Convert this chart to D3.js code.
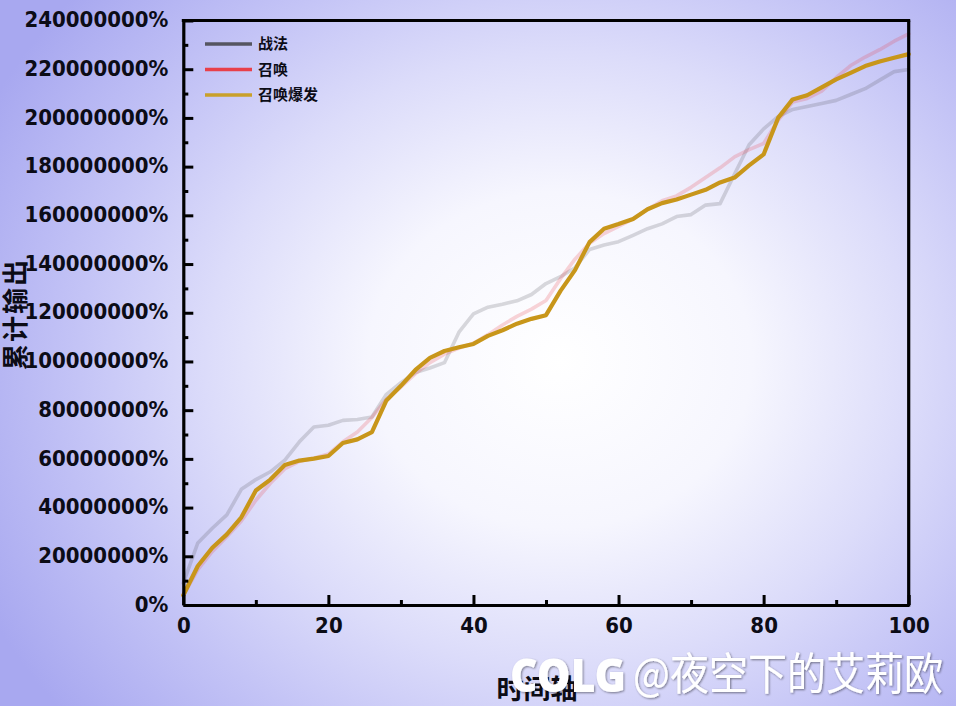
<!DOCTYPE html>
<html><head><meta charset="utf-8">
<script src="https://cdn.jsdelivr.net/npm/d3@7"></script>
<style>
html,body{margin:0;padding:0;background:#c0c0f4;}
svg{display:block;}
</style></head>
<body>
<svg id="chart" width="956" height="706"></svg>
<script>
// ---- data (values in millions of %) ----
const seriesNames = ["战法", "召唤", "召唤爆发"];
const timeAxis = [0,2,4,6,8,10,12,14,16,18,20,22,24,26,28,30,32,34,36,38,40,42,44,46,48,50,52,54,56,58,60,62,64,66,68,70,72,74,76,78,80,82,84,86,88,90,92,94,96,98,100];
const zhanfa = [9,25.5,31.5,37,47.5,51.5,54.7,59.5,67,73.1,73.8,75.8,76.2,77.2,86.5,91.3,95.5,97.3,99.5,112,119.5,122.3,123.5,124.9,127.5,132,134.8,138.5,146,147.8,149.2,151.8,154.5,156.5,159.5,160.3,164.2,164.8,177,189,195.5,200.5,203.5,204.7,205.9,207.2,209.6,212,215.5,219,219.9];
const zhaohuan = [4,14.5,22,28,34.5,43,50,56,59,60.3,62,67,71,77,84.5,89.5,95,99.5,103,105.5,107.5,111,115,118.5,121.5,125,134,142,148.5,152.5,155.5,158.5,162.5,166,168,171.5,175.5,179.5,184,187,189.5,199,206.5,208,211,216.5,221.5,225,228,231.5,234.5];
const baofa = [4,16,23.5,29,36,47,51.5,57.5,59.3,60.1,61.2,66.5,68,71,84,90,96.5,101.5,104.3,105.8,107.2,110.5,112.8,115.5,117.5,119,129,137.5,149,154.5,156.4,158.5,162.5,165,166.5,168.5,170.5,173.5,175.5,180.5,185,200,207.6,209.3,212.5,215.8,218.5,221.3,223.2,224.7,226.2];
const yTicks = [0,20,40,60,80,100,120,140,160,180,200,220,240];
const yMinorTicks = [10,30,50,70,90,110,130,150,170,190,210,230];
const xTicks = [0,20,40,60,80,100];
const xMinorTicks = [10,30,50,70,90];
const xTitle = "时间轴";
const yTitle = "累计输出";

// ---- styles ----
const lineColors = ["#555560", "#e8404a", "#c8961a"];
const legendColors = ["#555560", "#e8404a", "#c9a02a"];
const lineOpacity = [0.22, 0.22, 1];
const lineWidths = [3.6, 3.6, 4.2];
const numFont = "'DejaVu Sans Condensed','DejaVu Sans',sans-serif";
const cjkFont = "'Noto Sans CJK SC','Noto Sans',sans-serif";

const svg = d3.select("#chart");
const W = 956, H = 706;
const m = {left:183.3, right:908.7, top:20.5, bottom:605};

// background gradient
const defs = svg.append("defs");
const rg = defs.append("radialGradient").attr("id","bg")
  .attr("gradientUnits","userSpaceOnUse").attr("cx",0).attr("cy",0).attr("r",1)
  .attr("gradientTransform","translate(560,360) scale(640,560)");
[[0,"#ffffff"],[0.3,"#f6f6fe"],[0.55,"#dcdcfa"],[0.75,"#c4c4f6"],[1,"#a8a8f0"]]
  .forEach(([o,c])=>rg.append("stop").attr("offset",o).attr("stop-color",c));
const sh = defs.append("filter").attr("id","shadow").attr("x","-10%").attr("y","-20%").attr("width","120%").attr("height","140%");
sh.append("feDropShadow").attr("dx",1).attr("dy",1).attr("stdDeviation",1.2).attr("flood-color","#000").attr("flood-opacity",0.45);

svg.append("rect").attr("width",W).attr("height",H).attr("fill","url(#bg)");

const x = d3.scaleLinear().domain([0,100]).range([m.left, m.right]);
const y = d3.scaleLinear().domain([0,240]).range([m.bottom, m.top]);

// lines
const allSeries = [zhanfa, zhaohuan, baofa];
const lineGen = d3.line().x((d,i)=>x(timeAxis[i])).y(d=>y(d));
allSeries.forEach((s,k)=>{
  svg.append("path").datum(s).attr("d",lineGen)
    .attr("fill","none").attr("stroke",lineColors[k]).attr("stroke-opacity",lineOpacity[k])
    .attr("stroke-width",lineWidths[k]).attr("stroke-linejoin","round").attr("stroke-linecap","round");
});

// axes
const yAxis = d3.axisLeft(y).tickValues(yTicks).tickSizeInner(-10).tickSizeOuter(0).tickPadding(15)
  .tickFormat(d => d===0 ? "0%" : (d*1000000) + "%");
const gy = svg.append("g").attr("transform",`translate(${m.left},0)`).call(yAxis);
const gym = svg.append("g").attr("transform",`translate(${m.left},0)`)
  .call(d3.axisLeft(y).tickValues(yMinorTicks).tickSizeInner(-5).tickSizeOuter(0).tickFormat(""));
gym.select(".domain").remove();

const xAxis = d3.axisBottom(x).tickValues(xTicks).tickSizeInner(-10).tickSizeOuter(0).tickPadding(12);
const gx = svg.append("g").attr("transform",`translate(0,${m.bottom})`).call(xAxis);
const gxm = svg.append("g").attr("transform",`translate(0,${m.bottom})`)
  .call(d3.axisBottom(x).tickValues(xMinorTicks).tickSizeInner(-5).tickSizeOuter(0).tickFormat(""));
gxm.select(".domain").remove();

[gy,gym,gx,gxm].forEach(g=>{
  g.selectAll(".domain").attr("stroke","#000").attr("stroke-width",3.2);
  g.selectAll(".tick line").attr("stroke","#000").attr("stroke-width",3);
  g.selectAll("text").attr("font-family",numFont).attr("font-weight","bold")
    .attr("font-size",22).attr("fill","#0c0c16");
});
gy.selectAll("text").attr("dy","0.28em");

// top and right borders
svg.append("line").attr("x1",m.left-1.5).attr("x2",m.right+1.5).attr("y1",m.top).attr("y2",m.top)
  .attr("stroke","#000").attr("stroke-width",3.2);
svg.append("line").attr("x1",m.right).attr("x2",m.right).attr("y1",m.top).attr("y2",m.bottom+1.5)
  .attr("stroke","#000").attr("stroke-width",3.2);

// axis titles
svg.append("text").attr("transform",`translate(25,314) rotate(-90)`).attr("text-anchor","middle")
  .attr("font-family",cjkFont).attr("font-weight","bold").attr("font-size",26).attr("fill","#0c0c16")
  .attr("letter-spacing",2)
  .text(yTitle);
svg.append("text").attr("x",537).attr("y",699).attr("text-anchor","middle")
  .attr("font-family",cjkFont).attr("font-weight","bold").attr("font-size",27).attr("fill","#0c0c16")
  .text(xTitle);

// legend
const lg = svg.append("g").attr("transform","translate(205,44)");
seriesNames.forEach((n,i)=>{
  const row = lg.append("g").attr("transform",`translate(0,${i*25.5})`);
  row.append("line").attr("x1",0).attr("x2",47).attr("y1",0).attr("y2",0)
    .attr("stroke",legendColors[i]).attr("stroke-width",3.6);
  row.append("text").attr("x",53).attr("y",0).attr("dy","0.35em")
    .attr("font-family",cjkFont).attr("font-weight","bold").attr("font-size",15).attr("fill","#0c0c16")
    .text(n);
});

// watermark
const wm = svg.append("g").attr("filter","url(#shadow)");
wm.append("text").attr("x",510).attr("y",692)
  .attr("font-family","'Noto Sans','DejaVu Sans',sans-serif").attr("font-weight",900)
  .attr("font-size",46).attr("fill","#ffffff").attr("textLength",116).attr("lengthAdjust","spacingAndGlyphs")
  .text("COLG");
wm.append("text").attr("x",633).attr("y",690)
  .attr("font-family",cjkFont).attr("font-weight",400)
  .attr("font-size",44).attr("fill","#ffffff").attr("textLength",310).attr("lengthAdjust","spacingAndGlyphs")
  .text("@夜空下的艾莉欧");
</script>
</body></html>
